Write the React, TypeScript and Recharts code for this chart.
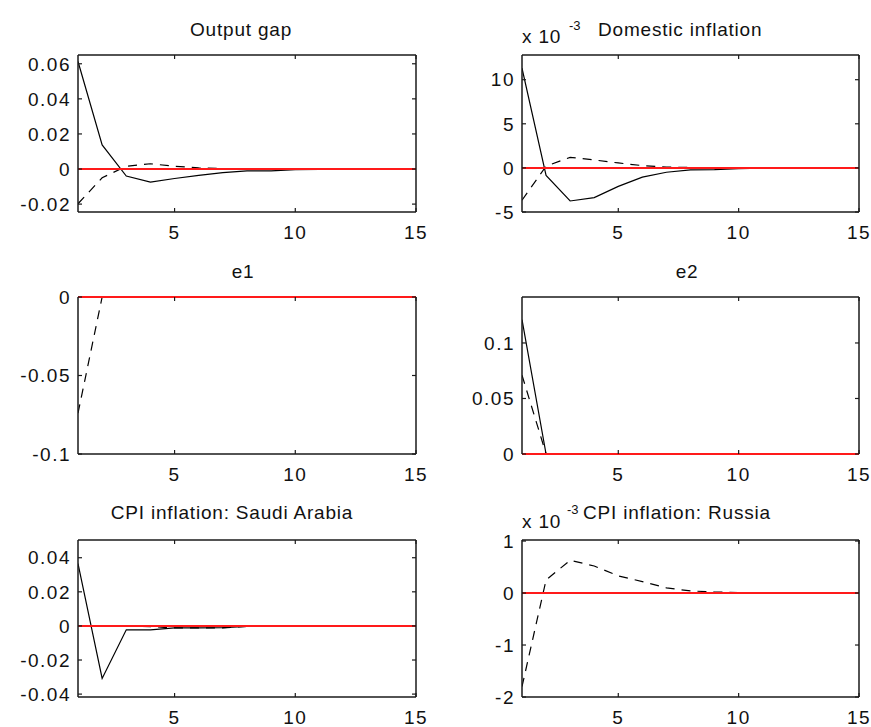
import React from 'react';
import { LineChart, Line, XAxis, YAxis, ReferenceLine } from 'recharts';

// horizon (periods)
const periods = [1, 2, 3, 4, 5, 6, 7, 8, 9, 10, 11, 12, 13, 14, 15];

// Output gap
const outputGapSolid = [0.0613, 0.0137, -0.004, -0.0075, -0.0054, -0.0036, -0.0021, -0.0011, -0.001, -0.0004, -0.0002, -0.0001, 0, 0, 0];
const outputGapDashed = [-0.0198, -0.005, 0.0016, 0.003, 0.0016, 0.0006, 0.0003, 0.0001, 0, 0, 0, 0, 0, 0, 0];

// Domestic inflation, in units of 10^-3
const domInflSolid = [11.3, -0.86, -3.75, -3.37, -2.1, -1.05, -0.49, -0.22, -0.19, -0.08, -0.04, -0.02, 0, 0, 0];
const domInflDashed = [-3.67, 0.2, 1.2, 0.9, 0.56, 0.26, 0.1, 0.04, 0.02, 0, 0, 0, 0, 0, 0];

// e1
const e1Solid = [0, 0, 0, 0, 0, 0, 0, 0, 0, 0, 0, 0, 0, 0, 0];
const e1Dashed = [-0.074, 0, 0, 0, 0, 0, 0, 0, 0, 0, 0, 0, 0, 0, 0];

// e2
const e2Solid = [0.121, 0, 0, 0, 0, 0, 0, 0, 0, 0, 0, 0, 0, 0, 0];
const e2Dashed = [0.071, 0, 0, 0, 0, 0, 0, 0, 0, 0, 0, 0, 0, 0, 0];

// CPI inflation: Saudi Arabia
const saudiSolid = [0.0366, -0.0308, -0.0023, -0.0023, -0.0012, -0.0011, -0.001, -0.0003, -0.0002, -0.0001, 0, 0, 0, 0, 0];
const saudiDashed = [0, 0, 0, -0.0004, -0.0012, -0.0012, -0.0011, -0.0003, 0, 0, 0, 0, 0, 0, 0];

// CPI inflation: Russia, in units of 10^-3
const russiaSolid = [0, 0, 0, 0, 0, 0, 0, 0, 0, 0, 0, 0, 0, 0, 0];
const russiaDashed = [-1.8, 0.25, 0.63, 0.52, 0.33, 0.22, 0.1, 0.04, 0.02, 0.01, 0, 0, 0, 0, 0];

const xTicks = [5, 10, 15];
const outputGapTicks = [-0.02, 0, 0.02, 0.04, 0.06];
const domInflTicks = [-5, 0, 5, 10];
const e1Ticks = [-0.1, -0.05, 0];
const e2Ticks = [0, 0.05, 0.1];
const saudiTicks = [-0.04, -0.02, 0, 0.02, 0.04];
const russiaTicks = [-2, -1, 0, 1];

const FONT = '"Liberation Sans", Arial, sans-serif';
const boxColor = '#1a1a1a';
const TICK = 4; // inward tick length
const XGAP = 14;
const YGAP = 7;

// MATLAB style: tick marks point into the box, labels sit outside
const BottomTick = (p: any) => (
  <g>
    <line x1={p.x} x2={p.x} y1={p.y - XGAP} y2={p.y - XGAP - TICK} stroke={boxColor} strokeWidth={1.2} />
    <text x={p.x} y={p.y} dy="0.71em" textAnchor="middle" fontFamily={FONT} fontSize={19} fill="#111" letterSpacing={1.5}>
      {p.payload.value}
    </text>
  </g>
);
const TopTick = (p: any) => (
  <line x1={p.x} x2={p.x} y1={p.y} y2={p.y + TICK} stroke={boxColor} strokeWidth={1.2} />
);
const LeftTick = (p: any) => (
  <g>
    <line x1={p.x + YGAP} x2={p.x + YGAP + TICK} y1={p.y} y2={p.y} stroke={boxColor} strokeWidth={1.2} />
    <text x={p.x} y={p.y} dy="0.355em" textAnchor="end" fontFamily={FONT} fontSize={19} fill="#111" letterSpacing={1.5}>
      {p.payload.value}
    </text>
  </g>
);
const RightTick = (p: any) => (
  <line x1={p.x} x2={p.x - TICK} y1={p.y} y2={p.y} stroke={boxColor} strokeWidth={1.2} />
);

type PanelProps = {
  left: number;
  top: number;
  right: number;
  bottom: number;
  solid: number[];
  dashed: number[];
  domain: [number, number];
  yTicks: number[];
  hideTopLine?: boolean;
  hideBottomLine?: boolean;
};

function Panel({ left, top, right, bottom, solid, dashed, domain, yTicks, hideTopLine, hideBottomLine }: PanelProps) {
  const data = periods.map((t, i) => ({ t, solid: solid[i], dashed: dashed[i] }));
  const w = right - left;
  const h = bottom - top;
  return (
    <div style={{ position: 'absolute', left: left - 70, top: top - 10 }}>
      <LineChart width={w + 95} height={h + 45} data={data} margin={{ top: 9, right: 24, bottom: 5, left: 0 }}>
        <XAxis xAxisId="b" dataKey="t" type="number" domain={[1, 15]} ticks={xTicks} interval={0}
          allowDataOverflow height={30} tickSize={0} tickMargin={XGAP} stroke={boxColor} strokeWidth={1.5}
          axisLine={!hideBottomLine} tick={BottomTick} />
        <XAxis xAxisId="t" orientation="top" dataKey="t" type="number" domain={[1, 15]} ticks={xTicks} interval={0}
          allowDataOverflow height={1} tickSize={0} tickMargin={0} stroke={boxColor} strokeWidth={1.5}
          axisLine={!hideTopLine} tick={TopTick} />
        <YAxis yAxisId="l" type="number" domain={domain} ticks={yTicks} interval={0} allowDataOverflow
          width={70} tickSize={0} tickMargin={YGAP} stroke={boxColor} strokeWidth={1.5} tick={LeftTick} />
        <YAxis yAxisId="r" orientation="right" type="number" domain={domain} ticks={yTicks} interval={0} allowDataOverflow
          width={1} tickSize={0} tickMargin={0} stroke={boxColor} strokeWidth={1.5} tick={RightTick} />
        <Line xAxisId="b" yAxisId="l" dataKey="dashed" stroke="#000" strokeWidth={1.2} strokeDasharray="9 7"
          dot={false} isAnimationActive={false} />
        <Line xAxisId="b" yAxisId="l" dataKey="solid" stroke="#000" strokeWidth={1.2} dot={false} isAnimationActive={false} />
        <ReferenceLine xAxisId="b" yAxisId="l" y={0} stroke="#ff1a1a" strokeWidth={2} />
      </LineChart>
    </div>
  );
}

export default function App() {
  const t = { fontFamily: FONT, fontSize: 19, fill: '#111', letterSpacing: 0.8 };
  const sup = { fontFamily: FONT, fontSize: 13, fill: '#111' };
  return (
    <div style={{ position: 'absolute', left: 0, top: 0, width: 871, height: 727, background: '#fff' }}>
      <Panel left={78} top={55} right={416} bottom={212} solid={outputGapSolid} dashed={outputGapDashed}
        domain={[-0.0245, 0.065]} yTicks={outputGapTicks} />
      <Panel left={522} top={55} right={859} bottom={212} solid={domInflSolid} dashed={domInflDashed}
        domain={[-5, 12.8]} yTicks={domInflTicks} />
      <Panel left={78} top={297} right={416} bottom={454} solid={e1Solid} dashed={e1Dashed}
        domain={[-0.1, 0]} yTicks={e1Ticks} hideTopLine />
      <Panel left={522} top={297} right={859} bottom={454} solid={e2Solid} dashed={e2Dashed}
        domain={[0, 0.1414]} yTicks={e2Ticks} hideBottomLine />
      <Panel left={78} top={540} right={416} bottom={697} solid={saudiSolid} dashed={saudiDashed}
        domain={[-0.0417, 0.0504]} yTicks={saudiTicks} />
      <Panel left={522} top={540} right={859} bottom={697} solid={russiaSolid} dashed={russiaDashed}
        domain={[-2, 1.02]} yTicks={russiaTicks} />
      <svg width={871} height={727} style={{ position: 'absolute', left: 0, top: 0, pointerEvents: 'none' }}>
        <text x={241} y={36} textAnchor="middle" {...t}>Output gap</text>
        <text x={522} y={43} {...t}>x 10</text>
        <text x={569} y={30} {...sup}>-3</text>
        <text x={598} y={36} {...t}>Domestic inflation</text>
        <text x={243} y={278} textAnchor="middle" {...t}>e1</text>
        <text x={687} y={278} textAnchor="middle" {...t}>e2</text>
        <text x={232} y={519} textAnchor="middle" {...t}>CPI inflation: Saudi Arabia</text>
        <text x={522} y={528} {...t}>x 10</text>
        <text x={567} y={514} {...sup}>-3</text>
        <text x={583} y={519} {...t}>CPI inflation: Russia</text>
      </svg>
    </div>
  );
}
